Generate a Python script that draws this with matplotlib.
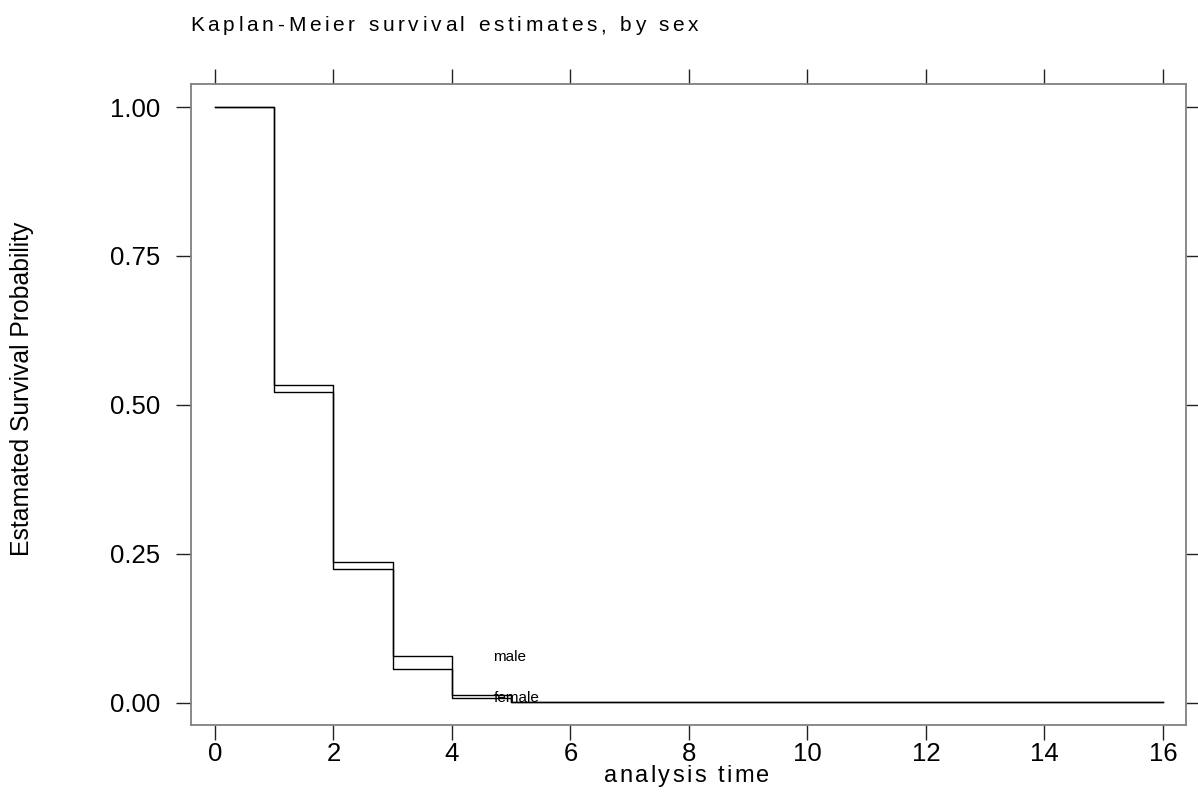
import matplotlib
matplotlib.use("Agg")
import matplotlib.pyplot as plt
from matplotlib import font_manager, ft2font

plt.rcParams['font.family'] = ['Liberation Sans', 'DejaVu Sans']

# ---- data ----
times = [0, 1, 2, 3, 4, 5, 16]
surv_male = [1.0, 0.534, 0.236, 0.079, 0.014, 0.002, 0.002]
surv_female = [1.0, 0.521, 0.225, 0.057, 0.009, 0.001, 0.001]
group_labels = ["male", "female"]
label_pos = [(4.7, 0.077), (4.7, 0.008)]
xticks = [0, 2, 4, 6, 8, 10, 12, 14, 16]
yticks = [0.0, 0.25, 0.5, 0.75, 1.0]
ytick_labels = ["0.00", "0.25", "0.50", "0.75", "1.00"]
title = "Kaplan-Meier survival estimates, by sex"
xlabel = "analysis time"
ylabel = "Estamated Survival Probability"

W, H, DPI = 1198, 793, 100
fig = plt.figure(figsize=(W / DPI, H / DPI), dpi=DPI)
L, R, T, B = 191, 1186, 84, 725
ax = fig.add_axes([L / W, 1 - B / H, (R - L) / W, (B - T) / H])

for s in (surv_male, surv_female):
    ax.step(times, s, where='post', color='black', lw=1.0)

for lab, (x, y) in zip(group_labels, label_pos):
    ax.text(x, y, lab, fontsize=11, ha='left', va='center', color='black')

ax.set_xlim(-0.405, 16.39)
ax.set_ylim(-0.037, 1.0386)
ax.set_xticks(xticks)
ax.set_xticklabels([str(v) for v in xticks])
ax.set_yticks(yticks)
ax.set_yticklabels(ytick_labels)
ax.tick_params(axis='both', which='major', direction='out', length=11, width=1.0,
               color='#222222', labelsize=18.5, top=True, right=True)
ax.tick_params(axis='x', pad=1.5)
ax.tick_params(axis='y', pad=11)
for sp in ax.spines.values():
    sp.set_color('#808080')
    sp.set_linewidth(1.3)

fontpath = font_manager.findfont(font_manager.FontProperties(family='Liberation Sans'))


def spaced_text(s, x_px, y_px, size_pt, spacing_px, ha='left'):
    f = ft2font.FT2Font(fontpath)
    f.set_size(size_pt, DPI)
    adv = []
    for ch in s:
        g = f.load_char(ord(ch))
        adv.append(g.linearHoriAdvance / 65536.0)
    total = sum(adv) + spacing_px * (len(s) - 1)
    start = x_px if ha == 'left' else x_px - total / 2
    pos = start
    for ch, a in zip(s, adv):
        fig.text(pos / W, 1 - y_px / H, ch, fontsize=size_pt, ha='left',
                 va='baseline', color='black')
        pos += a + spacing_px


spaced_text(title, 190, 31, 15, 3.7)
spaced_text(xlabel, (L + R) / 2 - 2, 782, 17, 2.4, ha='center')

fig.text(22 / W, 1 - 389 / H, ylabel, rotation=90, fontsize=17.8,
         ha='center', va='center')

fig.savefig("out.png", dpi=DPI)
